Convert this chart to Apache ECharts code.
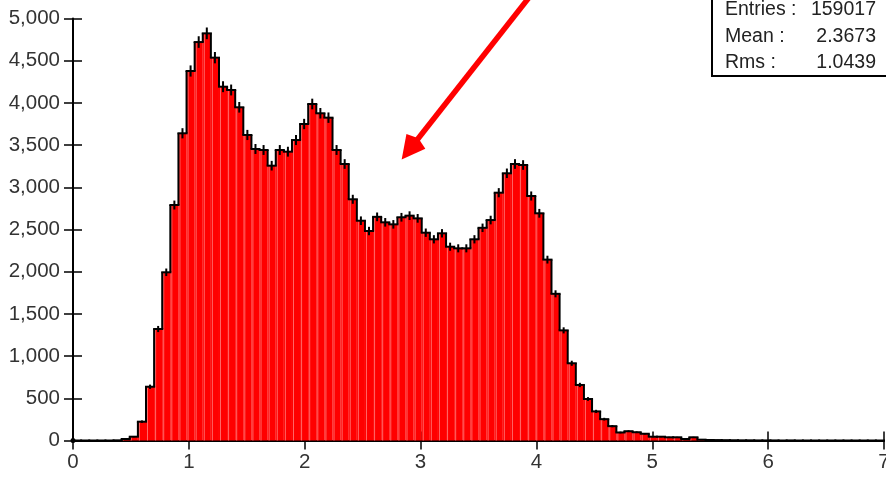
<!DOCTYPE html>
<html><head><meta charset="utf-8">
<script src="https://cdn.jsdelivr.net/npm/echarts@6/dist/echarts.min.js"></script>
<style>html,body{margin:0;padding:0;background:#fff}#c{width:886px;height:477px}</style>
</head><body><div id="c"></div>
<script>
// Histogram: 100 bins of width 0.07 starting at 0
const binStart = 0;
const binWidth = 0.07;
const counts = [
  0, 0, 0, 0, 0, 2, 18, 45, 223, 637,
  1321, 1993, 2790, 3640, 4378, 4721, 4824, 4536, 4192, 4153,
  3948, 3620, 3454, 3442, 3256, 3442, 3422, 3560, 3750, 3987,
  3877, 3825, 3442, 3276, 2858, 2604, 2482, 2650, 2585, 2561,
  2645, 2664, 2632, 2462, 2384, 2455, 2296, 2277, 2277, 2384,
  2520, 2612, 2936, 3166, 3276, 3264, 2897, 2692, 2143, 1738,
  1305, 915, 658, 492, 345, 253, 170, 95, 110, 98,
  80, 45, 45, 38, 38, 18, 38, 10, 6, 5,
  4, 3, 2, 2, 1, 1, 1, 0, 1, 0,
  0, 0, 0, 0, 0, 0, 0, 0, 0, 0
];
const xTickValues = [0, 1, 2, 3, 4, 5, 6, 7];
const yTickValues = [0, 500, 1000, 1500, 2000, 2500, 3000, 3500, 4000, 4500, 5000];
const statLabels = ['Entries :', 'Mean :', 'Rms :'];
const statValues = ['159017', '2.3673', '1.0439'];
// annotation arrow in data coordinates: [x, y]
const arrowTail = [3.987, 5338];
const arrowTip = [2.837, 3330];

const FONT = '"Liberation Sans", Arial, sans-serif';
const histData = counts.map((v, i) => [
  binStart + i * binWidth, binStart + (i + 1) * binWidth, v, i > 0 ? counts[i - 1] : 0
]);

const chart = echarts.init(document.getElementById('c'), null, {renderer: 'canvas'});

const xMin = xTickValues[0], xMax = xTickValues[xTickValues.length - 1];
const yMin = yTickValues[0], yMax = yTickValues[yTickValues.length - 1];

function xAxisDef(inside) {
  return {
    type: 'value', position: 'bottom', min: xMin, max: xMax, interval: 1,
    splitLine: {show: false},
    axisLine: {show: !inside, onZero: false, lineStyle: {color: '#000', width: 2}},
    axisTick: {show: true, inside: inside, length: 9, lineStyle: {color: '#000', width: 1.5}},
    axisLabel: {show: !inside, color: '#333', fontFamily: FONT, fontSize: 20.5, margin: 11,
      showMaxLabel: true, showMinLabel: true},
  };
}
function yAxisDef(inside) {
  return {
    type: 'value', position: 'left', min: yMin, max: yMax, interval: 500,
    splitLine: {show: false},
    axisLine: {show: !inside, onZero: false, lineStyle: {color: '#000', width: 2}},
    axisTick: {show: true, inside: inside, length: 9, lineStyle: {color: '#000', width: 1.5}},
    axisLabel: {show: !inside, color: '#333', fontFamily: FONT, fontSize: 20.5, margin: 13,
      formatter: v => v.toLocaleString('en-US')},
  };
}

chart.setOption({
  animation: false,
  backgroundColor: '#fff',
  grid: {left: 73, right: 2, top: 18.5, bottom: 36.5, containLabel: false, outerBoundsMode: 'none'},
  xAxis: [xAxisDef(false), xAxisDef(true)],
  yAxis: [yAxisDef(false), yAxisDef(true)],
  series: [{
    type: 'custom',
    xAxisIndex: 0, yAxisIndex: 0,
    clip: false,
    data: histData,
    renderItem: function (params, api) {
      const x0 = api.value(0), x1 = api.value(1), v = api.value(2), pv = api.value(3);
      const pTop = api.coord([x0, v]);
      const pBot = api.coord([x1, 0]);
      const pPrev = api.coord([x0, pv]);
      const children = [];
      if (v > 0) {
        children.push({type: 'rect', z2: 1,
          shape: {x: pTop[0], y: pTop[1], width: pBot[0] - pTop[0], height: pBot[1] - pTop[1]},
          style: {fill: '#ff0000'}});
        children.push({type: 'line', z2: 2,
          shape: {x1: pTop[0] + 1.5, y1: pTop[1], x2: pTop[0] + 1.5, y2: pBot[1]},
          style: {stroke: 'rgba(255,150,150,0.7)', lineWidth: 1}});
      }
      // outline: top and left connecting step
      children.push({type: 'line', z2: 10,
        shape: {x1: pTop[0] - 1, y1: pTop[1], x2: pBot[0] + 1, y2: pTop[1]},
        style: {stroke: '#000', lineWidth: 2}});
      if (v !== pv) {
        children.push({type: 'line', z2: 10,
          shape: {x1: pTop[0], y1: pPrev[1], x2: pTop[0], y2: pTop[1]},
          style: {stroke: '#000', lineWidth: 2}});
      }
      if (v > 0) {
        const e = Math.sqrt(v);
        const xc = (x0 + x1) / 2;
        const a = api.coord([xc, v + e]), b = api.coord([xc, v - e]);
        children.push({type: 'line', z2: 11,
          shape: {x1: a[0], y1: a[1], x2: b[0], y2: b[1]},
          style: {stroke: '#000', lineWidth: 2}});
      }
      return {type: 'group', children: children};
    }
  }]
});

// annotations
const t = chart.convertToPixel({seriesIndex: 0}, arrowTail);
const p = chart.convertToPixel({seriesIndex: 0}, arrowTip);
const o = chart.convertToPixel({seriesIndex: 0}, [xMin, yMin]);
const dx = t[0] - p[0], dy = t[1] - p[1];
const len = Math.sqrt(dx * dx + dy * dy);
const ux = dx / len, uy = dy / len;
const headLen = 23, headHalf = 12;
const bx = p[0] + ux * headLen, by = p[1] + uy * headLen;
const nx = -uy, ny = ux;

const statTexts = [];
statLabels.forEach((lab, i) => {
  const y = 9.5 + i * 26.8;
  statTexts.push({type: 'text', z: 101, x: 725, y: y,
    style: {text: lab, fill: '#222', font: '19.5px ' + FONT, align: 'left', verticalAlign: 'middle'}});
  statTexts.push({type: 'text', z: 101, x: 876, y: y,
    style: {text: statValues[i], fill: '#222', font: '19.5px ' + FONT, align: 'right', verticalAlign: 'middle'}});
});

chart.setOption({
  graphic: [
    {type: 'line', z: 50, shape: {x1: t[0], y1: t[1], x2: bx + ux * -2, y2: by + uy * -2},
      style: {stroke: '#ff0000', lineWidth: 5.5}},
    {type: 'polygon', z: 50, shape: {points: [
      [p[0], p[1]],
      [bx + nx * headHalf, by + ny * headHalf],
      [bx + ux * 4, by + uy * 4],
      [bx - nx * headHalf, by - ny * headHalf]
    ]}, style: {fill: '#ff0000'}},
    {type: 'circle', z: 60, shape: {cx: o[0], cy: o[1], r: 2.5}, style: {fill: '#000'}},
    {type: 'rect', z: 100, shape: {x: 712, y: -10, width: 200, height: 86},
      style: {fill: '#fff', stroke: '#000', lineWidth: 2}},
    ...statTexts
  ]
});
</script>
</body></html>
